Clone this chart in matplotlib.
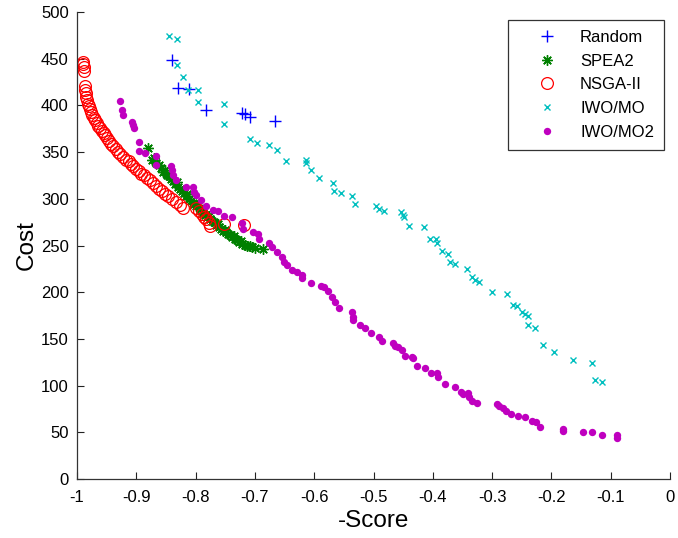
import matplotlib
matplotlib.use("Agg")
import matplotlib.pyplot as plt
import numpy as np

plt.rcParams['font.family'] = ['Liberation Sans', 'DejaVu Sans']

# ---- data ----
random_x = [-0.839, -0.829, -0.811, -0.782, -0.722, -0.717, -0.709, -0.666]
random_y = [449, 419, 417.6, 394.7, 392, 390.5, 388, 383]

spea2_x = [-0.881, -0.874, -0.870, -0.866, -0.862, -0.858, -0.855, -0.851, -0.848, -0.845,
           -0.842, -0.838, -0.835, -0.832, -0.829, -0.826, -0.823, -0.820, -0.817, -0.814,
           -0.811, -0.808, -0.805, -0.802, -0.799, -0.796, -0.793, -0.790, -0.787, -0.784,
           -0.781, -0.778, -0.775, -0.772, -0.769, -0.766, -0.763, -0.760, -0.757, -0.754,
           -0.751, -0.748, -0.745, -0.742, -0.739, -0.736, -0.733, -0.730, -0.727, -0.724,
           -0.721, -0.717, -0.713, -0.709, -0.705, -0.700, -0.686]
spea2_y = [354, 342, 344, 338, 336, 333, 329, 331, 326, 324,
           321, 319, 316, 318, 313, 310, 308, 306, 303, 305,
           300, 298, 296, 294, 292, 293, 289, 287, 285, 283,
           281, 282, 278, 276, 275, 272, 273, 270, 268, 266,
           267, 264, 262, 261, 259, 260, 257, 256, 254, 255,
           252, 251, 249, 250, 248, 247, 246]

nsga_x = [-0.990, -0.990, -0.989, -0.989, -0.987, -0.986, -0.985, -0.984, -0.983, -0.982,
          -0.980, -0.978, -0.976, -0.974, -0.972, -0.970, -0.967, -0.964, -0.961, -0.958,
          -0.955, -0.952, -0.949, -0.946, -0.942, -0.939, -0.935, -0.931, -0.927, -0.922,
          -0.918, -0.913, -0.909, -0.905, -0.900, -0.896, -0.892, -0.887, -0.882, -0.877,
          -0.872, -0.867, -0.862, -0.857, -0.851, -0.846, -0.840, -0.833, -0.826, -0.822,
          -0.800, -0.795, -0.790, -0.786, -0.782, -0.778, -0.775, -0.752, -0.718]
nsga_y = [447, 444, 441, 437, 421, 417, 413, 409, 406, 402,
          399, 396, 393, 390, 387, 384, 381, 378, 376, 373,
          370, 368, 365, 362, 359, 356, 353, 350, 348, 345,
          342, 340, 337, 335, 332, 330, 327, 325, 322, 320,
          317, 314, 311, 308, 305, 303, 300, 297, 293, 290,
          290, 287, 284, 281, 278, 274, 271, 273, 272]

iwo_x = [-0.845, -0.831, -0.831, -0.822, -0.813, -0.796, -0.796, -0.752, -0.752, -0.709,
         -0.697, -0.677, -0.663, -0.648, -0.613, -0.613, -0.606, -0.592, -0.569, -0.567,
         -0.555, -0.536, -0.532, -0.495, -0.490, -0.483, -0.454, -0.450, -0.449, -0.440,
         -0.415, -0.405, -0.394, -0.393, -0.385, -0.375, -0.371, -0.363, -0.343, -0.334,
         -0.329, -0.322, -0.300, -0.275, -0.264, -0.258, -0.249, -0.245, -0.240, -0.240,
         -0.228, -0.215, -0.196, -0.164, -0.132, -0.126, -0.114]
iwo_y = [474, 471, 443, 430, 417, 417, 404, 402, 380, 364,
         360, 358, 352, 341, 342, 338, 331, 322, 317, 308,
         306, 303, 294, 292, 289, 287, 286, 283, 280, 271,
         270, 257, 257, 253, 244, 241, 232, 230, 225, 216,
         213, 211, 200, 198, 186, 185, 179, 177, 174, 165,
         162, 143, 136, 127, 124, 106, 104]

iwo2_x = [-0.9275, -0.9246, -0.9219, -0.9078, -0.9051, -0.9039, -0.8954, -0.8954, -0.8853, -0.8676,
          -0.8676, -0.8415, -0.8403, -0.8386, -0.8330, -0.8170, -0.8052, -0.8027, -0.7993, -0.7917,
          -0.7825, -0.7701, -0.7617, -0.7521, -0.7386, -0.7223, -0.7206, -0.7027, -0.6948, -0.6926,
          -0.6757, -0.6717, -0.6632, -0.6543, -0.6501, -0.6459, -0.6369, -0.6290, -0.6214, -0.6201,
          -0.6054, -0.5890, -0.5835, -0.5762, -0.5705, -0.5649, -0.5582, -0.5368, -0.5351, -0.5341,
          -0.5228, -0.5143, -0.5042, -0.4907, -0.4862, -0.4676, -0.4637, -0.4582, -0.4524, -0.4469,
          -0.4346, -0.4329, -0.4261, -0.4132, -0.4030, -0.3934, -0.3907, -0.3794, -0.3626, -0.3524,
          -0.3496, -0.3406, -0.3384, -0.3344, -0.3250, -0.2922, -0.2878, -0.2811, -0.2766, -0.2681,
          -0.2558, -0.2445, -0.2332, -0.2260, -0.2192, -0.1799, -0.1799, -0.1472, -0.1310, -0.1152,
          -0.0899, -0.0899]
iwo2_y = [405.0, 395.1, 389.7, 382.5, 379.0, 375.5, 360.3, 351.5, 349.0, 345.8,
          336.2, 335.1, 330.8, 325.0, 320.1, 313.0, 312.3, 307.6, 304.1, 298.2,
          292.8, 288.0, 287.3, 282.1, 280.2, 274.6, 267.7, 264.8, 262.3, 256.6,
          253.0, 248.7, 243.4, 237.7, 231.8, 229.1, 223.8, 221.1, 218.4, 215.2,
          210.2, 206.6, 205.2, 201.3, 195.2, 189.8, 182.8, 179.1, 173.8, 170.2,
          164.9, 161.3, 156.0, 151.7, 148.1, 145.3, 142.7, 141.0, 138.1, 132.0,
          130.9, 129.2, 121.0, 119.2, 113.2, 113.8, 109.5, 101.7, 98.8, 93.5,
          91.0, 91.8, 88.1, 83.8, 81.0, 80.0, 78.2, 75.7, 72.8, 69.6,
          67.8, 66.7, 62.4, 60.7, 56.0, 53.2, 51.7, 50.6, 50.6, 47.4,
          47.1, 44.2]

x_ticks = [-1, -0.9, -0.8, -0.7, -0.6, -0.5, -0.4, -0.3, -0.2, -0.1, 0]
x_ticklabels = ['-1', '-0.9', '-0.8', '-0.7', '-0.6', '-0.5', '-0.4', '-0.3', '-0.2', '-0.1', '0']
y_ticks = [0, 50, 100, 150, 200, 250, 300, 350, 400, 450, 500]

# ---- figure ----
fig = plt.figure(figsize=(6.78, 5.38), dpi=100)
ax = fig.add_axes([77/678, 1-479/538, 593/678, 467/538])

ax.plot(random_x, random_y, linestyle='none', marker='+', color=(0, 0, 1),
        markersize=9, markeredgewidth=1.0, label='Random')
ax.plot(spea2_x, spea2_y, linestyle='none', marker=(8, 2, 0), color=(0, 0.5, 0),
        markersize=7.5, markeredgewidth=1.0, label='SPEA2')
ax.plot(nsga_x, nsga_y, linestyle='none', marker='o', markerfacecolor='none',
        markeredgecolor=(1, 0, 0), markersize=8.5, markeredgewidth=0.9, label='NSGA-II')
ax.plot(iwo_x, iwo_y, linestyle='none', marker='x', color=(0, 0.75, 0.75),
        markersize=5, markeredgewidth=1.0, label='IWO/MO')
ax.plot(iwo2_x, iwo2_y, linestyle='none', marker='o', color=(0.75, 0, 0.75),
        markersize=5.3, markeredgewidth=0, label='IWO/MO2')

ax.set_xlim(-1, 0)
ax.set_ylim(0, 500)
ax.set_xticks(x_ticks)
ax.set_xticklabels(x_ticklabels)
ax.set_yticks(y_ticks)
ax.spines['top'].set_visible(False)
ax.spines['right'].set_visible(False)
for s in ['left', 'bottom']:
    ax.spines[s].set_color('#333333')
    ax.spines[s].set_linewidth(0.9)
ax.tick_params(direction='in', length=5, width=0.8, labelsize=12, colors='#222222',
               labelcolor='black')
ax.tick_params(axis='x', pad=8)
ax.tick_params(axis='y', pad=6)

ax.set_xlabel('-Score', fontsize=17.5)
ax.set_ylabel('Cost', fontsize=17.5)
ax.xaxis.set_label_coords(0.5, -0.066)
ax.yaxis.set_label_coords(-0.066, 0.5)

leg = ax.legend(loc='upper right', bbox_to_anchor=(0.99, 0.983), fontsize=12,
                frameon=True, fancybox=False, shadow=False, labelspacing=0.52,
                handlelength=3.5, handletextpad=0.25, borderpad=0.6, borderaxespad=0)
leg.get_frame().set_edgecolor('black')
leg.get_frame().set_linewidth(0.9)

fig.savefig('out.png', dpi=100)
